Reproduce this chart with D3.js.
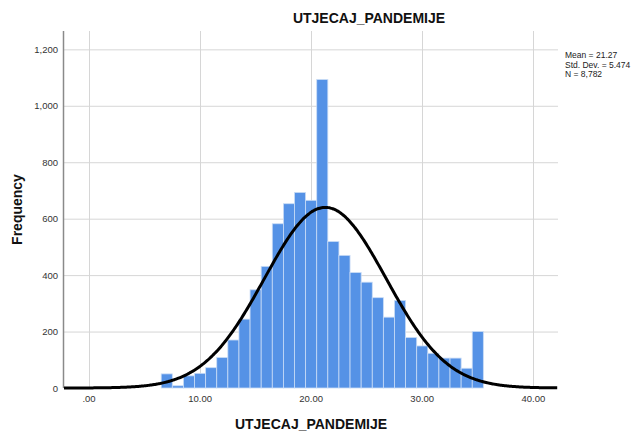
<!DOCTYPE html>
<html>
<head>
<meta charset="utf-8">
<script src="https://cdn.jsdelivr.net/npm/d3@7"></script>
<style>
  html, body { margin: 0; padding: 0; background: #fff; }
  svg { display: block; font-family: Arial, "Liberation Sans", sans-serif; }
</style>
</head>
<body>
<svg id="chart" width="640" height="432"></svg>
<script>
// ---- data ----
const binCenters = [7, 8, 9, 10, 11, 12, 13, 14, 15, 16, 17, 18, 19, 20, 21, 22, 23, 24, 25, 26, 27, 28, 29, 30, 31, 32, 33, 34, 35];
const frequencies = [50, 8, 43, 52, 72, 108, 170, 244, 348, 431, 582, 653, 693, 665, 1093, 519, 470, 409, 375, 320, 251, 310, 179, 149, 123, 106, 106, 70, 200];
const xTicks = [0, 10, 20, 30, 40];
const xTickLabels = [".00", "10.00", "20.00", "30.00", "40.00"];
const yTicks = [0, 200, 400, 600, 800, 1000, 1200];
const yTickLabels = ["0", "200", "400", "600", "800", "1,000", "1,200"];
const statMean = 21.27, statSD = 5.474, statN = 8782;
const statLines = ["Mean = 21.27", "Std. Dev. = 5.474", "N = 8,782"];
const titleText = "UTJECAJ_PANDEMIJE";
const xLabel = "UTJECAJ_PANDEMIJE";
const yLabel = "Frequency";
const binWidth = 1;

// ---- layout ----
const svg = d3.select("#chart");
const plot = { left: 64, right: 558, top: 31, bottom: 388 };

const x = d3.scaleLinear().domain([-2.25, 42.22]).range([plot.left, plot.right]);
const y = d3.scaleLinear().domain([0, 1265]).range([plot.bottom, plot.top]);

// gridlines
svg.append("g").selectAll("line.hg").data(yTicks.filter(d => d > 0)).join("line")
  .attr("x1", plot.left).attr("x2", plot.right)
  .attr("y1", d => y(d) + 0.5).attr("y2", d => y(d) + 0.5)
  .attr("stroke", "#d6d6d6").attr("stroke-width", 1);
svg.append("g").selectAll("line.vg").data(xTicks).join("line")
  .attr("x1", d => Math.round(x(d)) + 0.5).attr("x2", d => Math.round(x(d)) + 0.5)
  .attr("y1", plot.top).attr("y2", plot.bottom)
  .attr("stroke", "#d6d6d6").attr("stroke-width", 1);

// bars
svg.append("g").selectAll("rect").data(binCenters).join("rect")
  .attr("x", d => x(d - binWidth / 2))
  .attr("width", d => x(d + binWidth / 2) - x(d - binWidth / 2))
  .attr("y", (d, i) => y(frequencies[i]))
  .attr("height", (d, i) => y(0) - y(frequencies[i]))
  .attr("fill", "#5592e6")
  .attr("stroke", "#c9dcf6").attr("stroke-width", 0.8);

// y axis line
svg.append("line")
  .attr("x1", plot.left - 0.5).attr("x2", plot.left - 0.5)
  .attr("y1", plot.top).attr("y2", plot.bottom)
  .attr("stroke", "#8a8a8a").attr("stroke-width", 1.5);

// normal curve
const pdf = v => statN * binWidth * Math.exp(-0.5 * Math.pow((v - statMean) / statSD, 2)) / (statSD * Math.sqrt(2 * Math.PI));
const curveX = d3.range(x.domain()[0], x.domain()[1] + 0.001, 0.1);
svg.append("path")
  .datum(curveX)
  .attr("d", d3.line().x(d => x(d)).y(d => y(pdf(d))).curve(d3.curveBasis))
  .attr("fill", "none").attr("stroke", "#000").attr("stroke-width", 3);

// y tick labels
svg.append("g").selectAll("text").data(yTicks).join("text")
  .attr("x", plot.left - 6).attr("y", d => y(d) + 3.5)
  .attr("text-anchor", "end")
  .attr("font-size", "9.5px").attr("fill", "#333")
  .text((d, i) => yTickLabels[i]);

// x tick labels
svg.append("g").selectAll("text").data(xTicks).join("text")
  .attr("x", d => x(d)).attr("y", 402)
  .attr("text-anchor", "middle")
  .attr("font-size", "9.5px").attr("fill", "#333")
  .text((d, i) => xTickLabels[i]);

// axis titles
svg.append("text")
  .attr("x", (plot.left + plot.right) / 2).attr("y", 429)
  .attr("text-anchor", "middle").attr("font-size", "14px").attr("font-weight", "bold")
  .attr("fill", "#111").text(xLabel);
svg.append("text")
  .attr("transform", `translate(22, ${(plot.top + plot.bottom) / 2}) rotate(-90)`)
  .attr("text-anchor", "middle").attr("font-size", "14px").attr("font-weight", "bold")
  .attr("fill", "#111").text(yLabel);

// chart title
svg.append("text")
  .attr("x", 369).attr("y", 23)
  .attr("text-anchor", "middle").attr("font-size", "14px").attr("font-weight", "bold")
  .attr("fill", "#111").text(titleText);

// stats legend
svg.append("g").selectAll("text").data(statLines).join("text")
  .attr("x", 565).attr("y", (d, i) => 58 + i * 9.5)
  .attr("font-size", "8.5px").attr("fill", "#222")
  .text(d => d);
</script>
</body>
</html>
